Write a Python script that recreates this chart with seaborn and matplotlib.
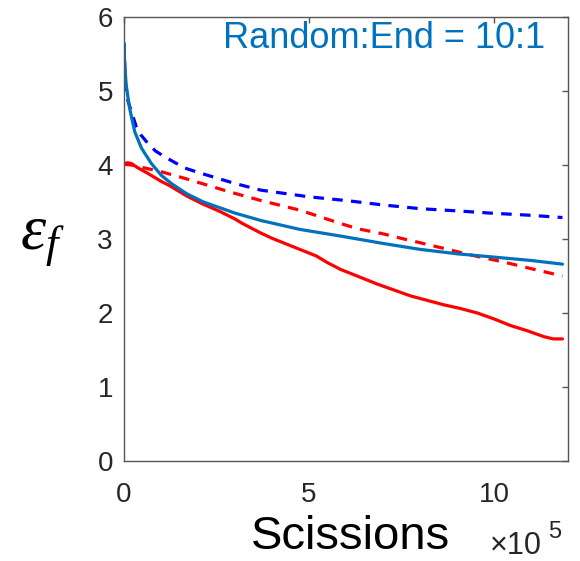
import matplotlib
matplotlib.use("Agg")
import matplotlib.pyplot as plt
import seaborn as sns

# Scission counts in units of 1e5, strain values eps_f
end_dash_x = [0, 0.02, 0.04, 0.1, 0.2, 0.33, 0.45, 0.65, 0.85, 1.1, 1.64, 2.0, 3.0, 3.7,
              5.0, 6.0, 7.0, 8.0, 9.0, 9.9, 11.0, 11.85]
end_dash_y = [5.65, 5.35, 5.1, 4.88, 4.72, 4.52, 4.41, 4.29, 4.19, 4.11, 3.96, 3.9, 3.75,
              3.66, 3.57, 3.52, 3.46, 3.41, 3.38, 3.35, 3.32, 3.29]

random_x = [0, 0.02, 0.06, 0.15, 0.29, 0.47, 0.74, 1.01, 1.28, 1.7, 2.15, 3.0,
            3.7, 4.75, 5.85, 7.0, 8.0, 9.0, 9.9, 11.0, 11.85]
random_y = [5.65, 5.35, 5.08, 4.77, 4.45, 4.23, 4.02, 3.86, 3.75, 3.61, 3.5,
            3.35, 3.25, 3.13, 3.04, 2.94, 2.86, 2.8, 2.76, 2.71, 2.66]

mixed_dash_x = [0.0, 0.2, 0.56, 1.0, 1.64, 2.9, 3.7, 4.75, 5.85, 6.3, 7.0, 7.65, 8.0, 9.5,
                10.25, 11.0, 11.85]
mixed_dash_y = [4.01, 4.0, 3.96, 3.91, 3.82, 3.63, 3.52, 3.39, 3.21, 3.14, 3.07, 2.99,
                2.95, 2.77, 2.69, 2.6, 2.5]

mixed_x = [0, 0.1, 0.2, 0.38, 0.6, 1.0, 1.2, 1.7, 2.1, 2.6, 3.0, 3.2, 3.7, 4.0, 4.4,
           4.85, 5.2, 5.5, 5.85, 6.3, 6.85, 7.3, 7.75, 8.2, 8.65, 9.1, 9.55, 10.0, 10.45,
           10.9, 11.35, 11.6, 11.85]
mixed_y = [4.02, 4.03, 4.02, 3.96, 3.9, 3.78, 3.73, 3.58, 3.48, 3.37, 3.27, 3.21, 3.08,
           3.01, 2.93, 2.84, 2.77, 2.68, 2.59, 2.5, 2.39, 2.31, 2.23, 2.17, 2.11, 2.06,
           2.0, 1.92, 1.83, 1.76, 1.68, 1.65, 1.65]

x_ticks = [0, 5, 10]
x_tick_labels = ["0", "5", "10"]
y_ticks = [0, 1, 2, 3, 4, 5, 6]
y_tick_labels = ["0", "1", "2", "3", "4", "5", "6"]

sns.set_style("white")
plt.rcParams["font.family"] = ["Liberation Sans", "DejaVu Sans"]
plt.rcParams["mathtext.fontset"] = "custom"
plt.rcParams["mathtext.it"] = "Liberation Serif:italic"
plt.rcParams["mathtext.rm"] = "Liberation Serif"

fig = plt.figure(figsize=(5.8, 5.61), dpi=100)
ax = fig.add_axes([124 / 580, 100 / 561, 444 / 580, 444 / 561])

dash = (0, (3.3, 2.6))
lw = 2.3
sns.lineplot(x=mixed_x, y=mixed_y, ax=ax, color="#FF0000", linewidth=lw)
sns.lineplot(x=mixed_dash_x, y=mixed_dash_y, ax=ax, color="#FF0000", linewidth=lw,
             linestyle=dash)
sns.lineplot(x=end_dash_x, y=end_dash_y, ax=ax, color="#0000FF", linewidth=lw,
             linestyle=dash)
sns.lineplot(x=random_x, y=random_y, ax=ax, color="#0072BD", linewidth=lw)

ax.set_xlim(0, 12)
ax.set_ylim(0, 6)
ax.set_xticks(x_ticks)
ax.set_xticklabels(x_tick_labels)
ax.set_yticks(y_ticks)
ax.set_yticklabels(y_tick_labels)
ax.set_xlabel("")
ax.set_ylabel("")

for s in ax.spines.values():
    s.set_visible(True)
    s.set_color("#555555")
    s.set_linewidth(1.0)

ax.tick_params(axis="both", which="both", direction="in", length=4, width=1.0,
               color="#555555", top=True, right=True, labelsize=20,
               labelcolor="#262626")
ax.tick_params(axis="y", pad=8)
ax.tick_params(axis="x", pad=15)

ax.text(0.948, 0.930, "Random:End = 10:1", transform=ax.transAxes, ha="right",
        va="baseline", fontsize=26, color="#0072BD")

fig.text(351 / 580, 1 - 549 / 561, "Scissions", ha="center", va="baseline",
         fontsize=34, color="black")
fig.text(490 / 580, 1 - 554 / 561, "\u00d710", ha="left", va="baseline",
         fontsize=22, color="#262626")
fig.text(548 / 580, 1 - 538 / 561, "5", ha="left", va="baseline",
         fontsize=17, color="#262626")

fig.text(20 / 580, 1 - 238 / 561, r"$\varepsilon_f$", ha="left", va="center",
         fontsize=46, color="black")

fig.savefig("out.png", dpi=100)
